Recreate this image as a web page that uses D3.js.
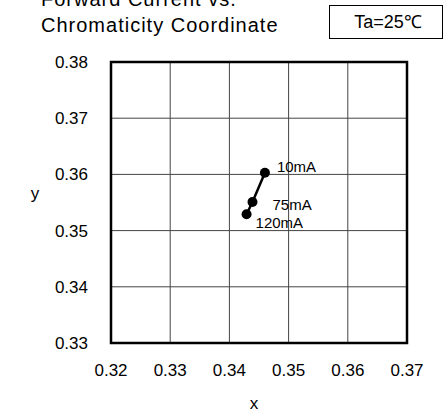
<!DOCTYPE html>
<html>
<head>
<meta charset="utf-8">
<script src="https://cdn.jsdelivr.net/npm/d3@7"></script>
<style>
  body { margin: 0; background: #fff; }
  text { font-family: "Liberation Sans", Arial, sans-serif; fill: #000; }
</style>
</head>
<body>
<div id="chart"></div>
<script>
const width = 446, height = 412;

// data
const currents = ["10mA", "75mA", "120mA"];
const xValues = [0.3460, 0.3439, 0.3429];
const yValues = [0.3603, 0.3551, 0.3529];
const xTicks = [0.32, 0.33, 0.34, 0.35, 0.36, 0.37];
const yTicks = [0.33, 0.34, 0.35, 0.36, 0.37, 0.38];
// label offsets (px) for each point label
const labelDx = [12, 20, 9];
const labelDy = [-1, 8, 14];

const margin = {left: 111, right: 39, top: 62, bottom: 69};

const svg = d3.select("#chart").append("svg")
    .attr("width", width).attr("height", height);

const x = d3.scaleLinear().domain([0.32, 0.37]).range([margin.left, width - margin.right]);
const y = d3.scaleLinear().domain([0.33, 0.38]).range([height - margin.bottom, margin.top]);

// grid
svg.append("g").selectAll("line").data(xTicks.slice(1, -1))
    .enter().append("line")
    .attr("x1", d => x(d)).attr("x2", d => x(d))
    .attr("y1", y(0.38)).attr("y2", y(0.33))
    .attr("stroke", "#444").attr("stroke-width", 1);
svg.append("g").selectAll("line").data(yTicks.slice(1, -1))
    .enter().append("line")
    .attr("y1", d => y(d)).attr("y2", d => y(d))
    .attr("x1", x(0.32)).attr("x2", x(0.37))
    .attr("stroke", "#444").attr("stroke-width", 1);

// frame
svg.append("rect")
    .attr("x", x(0.32)).attr("y", y(0.38))
    .attr("width", x(0.37) - x(0.32)).attr("height", y(0.33) - y(0.38))
    .attr("fill", "none").attr("stroke", "#000").attr("stroke-width", 2.5);

// tick labels
svg.append("g").selectAll("text").data(yTicks)
    .enter().append("text")
    .attr("x", 88).attr("y", d => y(d) + 6)
    .attr("text-anchor", "end").style("font-size", "17px")
    .text(d => d.toFixed(2));
svg.append("g").selectAll("text").data(xTicks)
    .enter().append("text")
    .attr("x", d => x(d)).attr("y", 376)
    .attr("text-anchor", "middle").style("font-size", "17px")
    .text(d => d.toFixed(2));

// axis titles
svg.append("text").attr("x", 254).attr("y", 409)
    .attr("text-anchor", "middle").style("font-size", "17px").text("x");
svg.append("text").attr("x", 35).attr("y", 199)
    .attr("text-anchor", "middle").style("font-size", "17px").text("y");

// series
const pts = currents.map((c, i) => ({c: c, x: xValues[i], y: yValues[i], i: i}));
svg.append("path").datum(pts)
    .attr("d", d3.line().x(d => x(d.x)).y(d => y(d.y)))
    .attr("fill", "none").attr("stroke", "#000").attr("stroke-width", 2.5);
svg.append("g").selectAll("circle").data(pts)
    .enter().append("circle")
    .attr("cx", d => x(d.x)).attr("cy", d => y(d.y)).attr("r", 5)
    .attr("fill", "#000");
svg.append("g").selectAll("text").data(pts)
    .enter().append("text")
    .attr("x", d => x(d.x) + labelDx[d.i]).attr("y", d => y(d.y) + labelDy[d.i])
    .style("font-size", "15px")
    .text(d => d.c);

// title
svg.append("text").attr("x", 41).attr("y", 6).style("font-size", "20px")
    .style("letter-spacing", "1px").text("Forward Current vs.");
svg.append("text").attr("x", 41).attr("y", 32).style("font-size", "20px")
    .style("letter-spacing", "1px").text("Chromaticity Coordinate");

// condition box
svg.append("rect").attr("x", 329.5).attr("y", 5.5).attr("width", 113).attr("height", 33)
    .attr("fill", "#fff").attr("stroke", "#000").attr("stroke-width", 1);
svg.append("text").attr("x", 388).attr("y", 28).attr("text-anchor", "middle")
    .style("font-size", "18px").text("Ta=25℃");
</script>
</body>
</html>
